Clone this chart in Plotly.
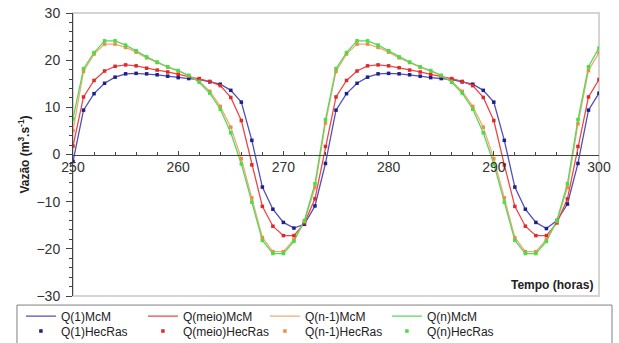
import plotly.graph_objects as go

hours = list(range(250, 301))

q1 = [-1.5, 9.4, 12.9, 15.1, 16.4, 17.1, 17.2, 17.1, 16.9, 16.6, 16.3, 16.1, 15.9, 15.4, 14.9, 13.6, 11.1, 3.0, -6.9, -11.6, -14.4, -15.6, -14.8, -10.9,
      -1.9, 9.4, 12.9, 15.1, 16.4, 17.1, 17.2, 17.1, 16.9, 16.6, 16.3, 16.1, 15.9, 15.4, 14.9, 13.6, 11.1, 3.0, -6.9, -11.6, -14.4, -15.7, -14.0, -10.5,
      -1.9, 9.4, 13.0]
qmeio = [1.8, 12.2, 15.7, 17.7, 18.7, 19.0, 18.8, 18.3, 17.9, 17.5, 17.0, 16.6, 16.1, 15.5, 14.6, 12.1, 7.2, -2.2, -11.0, -15.2, -17.2, -17.2, -14.5, -9.4,
         1.7, 12.2, 15.7, 17.7, 18.8, 19.0, 18.8, 18.4, 17.9, 17.5, 17.0, 16.6, 16.1, 15.5, 14.6, 12.1, 7.2, -2.2, -11.0, -15.2, -17.2, -17.2, -14.5, -9.4,
         1.7, 12.2, 15.9]
qn1 = [5.1, 17.6, 21.3, 23.4, 23.4, 22.7, 21.7, 20.5, 19.5, 18.5, 17.7, 16.7, 15.5, 13.4, 10.2, 5.8, -0.9, -9.2, -17.6, -20.6, -20.6, -18.0, -14.2, -7.0,
       6.7, 17.6, 21.3, 23.4, 23.4, 22.7, 21.7, 20.5, 19.5, 18.5, 17.7, 16.7, 15.5, 13.4, 10.2, 5.8, -0.9, -9.2, -17.6, -20.6, -20.6, -18.0, -14.2, -7.0,
       6.5, 17.8, 21.6]
qn = [7.6, 18.2, 21.6, 24.1, 24.1, 23.2, 22.0, 20.7, 19.6, 18.6, 17.8, 16.8, 15.3, 13.0, 9.6, 4.6, -2.0, -10.1, -18.2, -21.0, -21.0, -18.4, -14.0, -6.2,
      7.4, 18.2, 21.6, 24.1, 24.1, 23.2, 22.0, 20.7, 19.6, 18.6, 17.8, 16.8, 15.3, 13.0, 9.6, 4.6, -2.0, -10.1, -18.2, -21.0, -21.0, -18.4, -14.0, -6.2,
      7.4, 18.6, 22.6]

series_names = ["Q(1)", "Q(meio)", "Q(n-1)", "Q(n)"]
series_vals = [q1, qmeio, qn1, qn]
line_colors = ["#5050bc", "#e84848", "#f4a878", "#5ad85a"]
marker_colors = ["#1e1e8c", "#e02828", "#e8904a", "#44e044"]

x_ticks = [250, 260, 270, 280, 290, 300]
y_ticks = [-30, -20, -10, 0, 10, 20, 30]

fig = go.Figure()
for name, vals, c in zip(series_names, series_vals, line_colors):
    fig.add_trace(go.Scatter(x=hours, y=vals, mode="lines", name=name + "McM",
                             line=dict(color=c, width=1.3), legend="legend"))
for name, vals, c in zip(series_names, series_vals, marker_colors):
    fig.add_trace(go.Scatter(x=hours, y=vals, mode="markers", name=name + "HecRas",
                             marker=dict(color=c, size=3.5, symbol="square"),
                             legend="legend2"))

leg_common = dict(orientation="h", x=-0.099, xanchor="left", yanchor="middle",
                  borderwidth=0, bgcolor="rgba(0,0,0,0)",
                  font=dict(size=12, color="#222222"),
                  entrywidth=77, entrywidthmode="pixels", itemwidth=30,
                  tracegroupgap=0)

fig.update_layout(
    width=619, height=343,
    margin=dict(l=73, r=20, t=13, b=47, autoexpand=False),
    paper_bgcolor="white", plot_bgcolor="white",
    font=dict(family="Arial, Liberation Sans, sans-serif", color="#333333"),
    showlegend=True,
    legend=dict(y=-0.071, **leg_common),
    legend2=dict(y=-0.124, **leg_common),
    xaxis=dict(range=[250, 300], tickvals=x_ticks, anchor="free", position=0.5,
               showline=True, linecolor="#444444", linewidth=1,
               ticks="inside", ticklen=4, tickcolor="#444444",
               minor=dict(dtick=2, ticks="inside", ticklen=3, tickcolor="#444444"),
               showgrid=False, zeroline=False, tickfont=dict(size=14)),
    yaxis=dict(range=[-30, 30], tickvals=y_ticks,
               showline=True, linecolor="#444444", linewidth=1,
               ticks="outside", ticklen=6, tickcolor="#444444",
               minor=dict(dtick=2, ticks="outside", ticklen=3, tickcolor="#444444"),
               showgrid=False, zeroline=False, tickfont=dict(size=14),
               ticklabelstandoff=3, ticklabeloverflow="allow",
               title=dict(text="<b>Vazão (m<sup>3</sup>.s<sup>-1</sup>)</b>",
                          font=dict(size=12, color="#222222"), standoff=4)),
    shapes=[dict(type="rect", xref="paper", yref="paper", x0=0, x1=1, y0=0, y1=1,
                 line=dict(color="#d4d4d4", width=2), layer="below"),
            dict(type="rect", xref="paper", yref="paper", x0=-0.1065, x1=1.0247,
                 y0=-0.17, y1=-0.032, line=dict(color="#808080", width=1),
                 fillcolor="rgba(0,0,0,0)", layer="below")],
    annotations=[dict(text="<b>Tempo (horas)</b>", xref="paper", yref="paper",
                      x=1, y=0.04, xanchor="right", yanchor="middle", xshift=-4,
                      showarrow=False, font=dict(size=12, color="#222222"))],
)

fig.write_html("out.html", config={"displayModeBar": False},
               post_script="document.body.style.margin='0';document.body.style.overflow='hidden';")
